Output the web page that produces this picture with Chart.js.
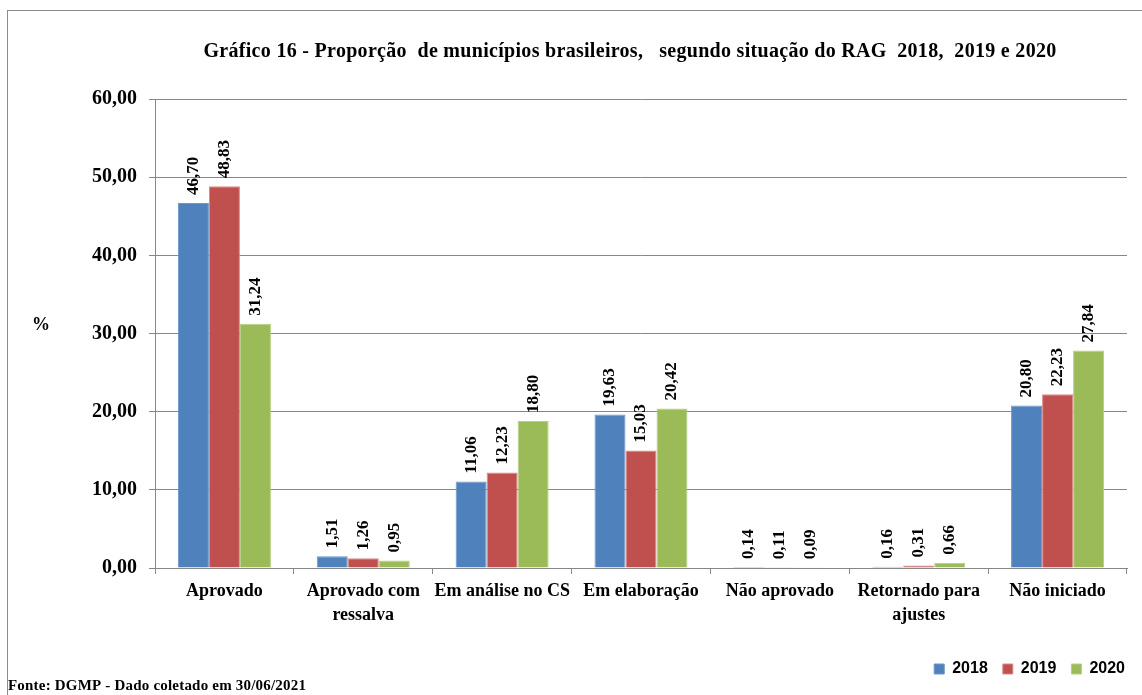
<!DOCTYPE html>
<html>
<head>
<meta charset="utf-8">
<script src="https://cdn.jsdelivr.net/npm/chart.js@4/dist/chart.umd.min.js"></script>
<style>
  html, body { margin: 0; padding: 0; background: #fff; }
  #wrap { width: 1142px; height: 695px; position: relative; }
</style>
</head>
<body>
<div id="wrap"><canvas id="rag-chart" width="1142" height="695"></canvas></div>
<script>
const categories = [
    'Aprovado',
    ['Aprovado com', 'ressalva'],
    'Em análise no CS',
    'Em elaboração',
    'Não aprovado',
    ['Retornado para', 'ajustes'],
    'Não iniciado'
];
const values2018 = [46.70, 1.51, 11.06, 19.63, 0.14, 0.16, 20.80];
const values2019 = [48.83, 1.26, 12.23, 15.03, 0.11, 0.31, 22.23];
const values2020 = [31.24, 0.95, 18.80, 20.42, 0.09, 0.66, 27.84];
const seriesLabels = ['2018', '2019', '2020'];
const yTicks = [0, 10, 20, 30, 40, 50, 60];

const titleText = 'Gráfico 16 - Proporção  de municípios brasileiros,   segundo situação do RAG  2018,  2019 e 2020';
const sourceText = 'Fonte: DGMP - Dado coletado em 30/06/2021';

const serif = "'Liberation Serif', 'Times New Roman', serif";
const sans = "'Liberation Sans', Arial, sans-serif";
const gridGray = '#878787';

const fmt = (v) => v.toFixed(2).replace('.', ',');

// frame, title, % label and source line
const decorations = {
    id: 'decorations',
    afterLayout(chart) {
        // push the legend a bit further right, like the original
        chart.legend.left += 13;
        chart.legend.right += 13;
    },
    beforeDraw(chart) {
        const ctx = chart.ctx;
        ctx.save();
        ctx.fillStyle = '#fff';
        ctx.fillRect(0, 0, chart.width, chart.height);
        ctx.strokeStyle = '#8c8c8c';
        ctx.lineWidth = 1;
        ctx.strokeRect(7.5, 10.5, 1150, 700);
        ctx.restore();
    },
    afterDraw(chart) {
        const ctx = chart.ctx;
        ctx.save();
        ctx.fillStyle = '#000';
        ctx.textBaseline = 'middle';
        ctx.font = 'bold 20px ' + serif;
        ctx.letterSpacing = '0.3px';
        ctx.textAlign = 'center';
        ctx.fillText(titleText, 630, 52);
        ctx.font = 'bold 18px ' + serif;
        ctx.letterSpacing = '0px';
        ctx.textAlign = 'left';
        ctx.fillText('%', 32, 325);
        ctx.font = 'bold 15px ' + serif;
        ctx.letterSpacing = '0.2px';
        ctx.fillText(sourceText, 8, 686);
        ctx.restore();
    }
};

// vertical value labels above each bar
const barLabels = {
    id: 'barLabels',
    afterDatasetsDraw(chart) {
        const ctx = chart.ctx;
        ctx.save();
        ctx.fillStyle = '#000';
        ctx.font = 'bold 17px ' + serif;
        ctx.textAlign = 'left';
        ctx.textBaseline = 'middle';
        chart.data.datasets.forEach((ds, i) => {
            chart.getDatasetMeta(i).data.forEach((bar, j) => {
                ctx.save();
                ctx.translate(bar.x, bar.y - 8);
                ctx.rotate(-Math.PI / 2);
                ctx.fillText(fmt(ds.data[j]), 0, 0);
                ctx.restore();
            });
        });
        ctx.restore();
    }
};

const ctx = document.getElementById('rag-chart').getContext('2d');
const ragChart = new Chart(ctx, {
    type: 'bar',
    data: {
        labels: categories,
        datasets: [
            { label: seriesLabels[0], data: values2018, backgroundColor: '#4F81BD', borderColor: '#6C95C8', borderWidth: 1 },
            { label: seriesLabels[1], data: values2019, backgroundColor: '#C0504D', borderColor: '#D98A88', borderWidth: 1 },
            { label: seriesLabels[2], data: values2020, backgroundColor: '#9BBB59', borderColor: '#B5CE80', borderWidth: 1 }
        ]
    },
    options: {
        responsive: false,
        animation: false,
        layout: { padding: { top: 99, right: 15, left: 0, bottom: 8 } },
        datasets: { bar: { categoryPercentage: 0.67, barPercentage: 1.0 } },
        plugins: {
            title: { display: false },
            tooltip: { enabled: false },
            legend: {
                position: 'bottom',
                align: 'end',
                labels: {
                    boxWidth: 10,
                    boxHeight: 10,
                    padding: 15,
                    color: '#000',
                    font: { family: sans, size: 16, weight: 'bold' }
                }
            }
        },
        scales: {
            x: {
                grid: { drawOnChartArea: false, tickLength: 6, color: gridGray },
                border: { color: gridGray },
                ticks: {
                    color: '#000',
                    padding: 6,
                    maxRotation: 0,
                    autoSkip: false,
                    font: { family: serif, size: 18, weight: 'bold', lineHeight: 1.3 }
                },
                afterFit(scale) { scale.height = 78; }
            },
            y: {
                min: 0,
                max: 60,
                afterBuildTicks(scale) { scale.ticks = yTicks.map(v => ({ value: v })); },
                grid: { color: gridGray, tickLength: 6 },
                border: { color: gridGray },
                ticks: {
                    color: '#000',
                    padding: 12,
                    font: { family: serif, size: 20, weight: 'bold' },
                    callback: (v) => fmt(v)
                },
                afterFit(scale) { scale.width = 155; }
            }
        }
    },
    plugins: [decorations, barLabels]
});
</script>
</body>
</html>
